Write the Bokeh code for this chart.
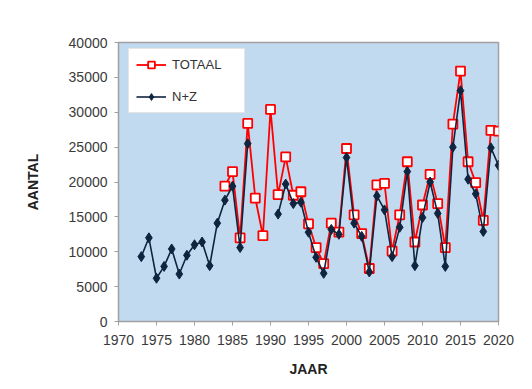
import numpy as np
from bokeh.plotting import figure
from bokeh.models import Range1d, FixedTicker, Legend, LegendItem
from bokeh.embed import file_html
from bokeh.resources import INLINE

nan = float("nan")

years_nz = list(range(1973, 2021))
nz_values = [9300, 12000, 6200, 7900, 10400, 6800, 9500, 11000, 11400, 8000,
             14100, 17400, 19400, 10600, 25500, nan, nan, nan, 15400, 19700,
             16900, 17100, 12800, 9200, 6900, 13200, 12500, 23500, 14100, 12200,
             7100, 18000, 16000, 9300, 13500, 21500, 8000, 14900, 20000, 15500,
             7900, 25000, 33100, 20400, 18300, 12900, 24900, 22400]

years_tot = list(range(1984, 2021))
tot_values = [19400, 21500, 12000, 28400, 17700, 12300, 30400, 18200, 23600, 18100,
              18600, 14000, 10600, 8300, 14100, 12800, 24800, 15300, 12600, 7600,
              19600, 19800, 10100, 15300, 22900, 11400, 16700, 21100, 16900, 10600,
              28300, 35900, 22900, 19900, 14500, 27400, 27300]

x_ticks = list(range(1970, 2021, 5))
y_ticks = list(range(0, 40001, 5000))

series_names = ["TOTAAL", "N+Z"]
x_label = "JAAR"
y_label = "AANTAL"

FONT = "Liberation Sans"
RED = "#FF0000"
NAVY = "#0F243E"

W, H = 524, 381
BL, BR, BT, BB = 118, 26, 42, 60
FRAME_H = H - BT - BB

p = figure(width=W, height=H, output_backend="svg", toolbar_location=None,
           x_range=Range1d(1970, 2020), y_range=Range1d(0, 40000),
           min_border_left=BL, min_border_top=BT, min_border_right=BR,
           min_border_bottom=BB)

p.background_fill_color = "#C2DAF0"
p.border_fill_color = "white"
p.outline_line_color = "#A0A0A0"
p.outline_line_width = 1.5
p.xgrid.visible = False
p.ygrid.visible = False

for ax in (p.xaxis[0], p.yaxis[0]):
    ax.axis_line_color = "#A0A0A0"
    ax.major_tick_line_color = "#A0A0A0"
    ax.minor_tick_line_color = None
    ax.major_tick_in = 0
    ax.major_tick_out = 4
    ax.major_label_text_font = FONT
    ax.major_label_text_font_size = "14px"
    ax.major_label_text_color = "#3A3A3A"
    ax.axis_label_text_font = FONT
    ax.axis_label_text_font_size = "14px"
    ax.axis_label_text_font_style = "bold"
    ax.axis_label_text_color = "#222222"

p.xaxis.ticker = FixedTicker(ticks=x_ticks)
p.yaxis.ticker = FixedTicker(ticks=y_ticks)
p.xaxis.axis_label = x_label
p.yaxis.axis_label = y_label
p.xaxis.major_label_standoff = 9
p.yaxis.major_label_standoff = 7
p.xaxis.axis_label_standoff = 13
p.yaxis.axis_label_standoff = 25

t_line = p.line(years_tot, tot_values, line_color=RED, line_width=1.8)
t_mark = p.scatter(years_tot, tot_values, marker="square", size=9,
                   line_color=RED, line_width=1.8, fill_color="white")
n_line = p.line(years_nz, nz_values, line_color=NAVY, line_width=1.6)
n_mark = p.scatter(years_nz, nz_values, marker="diamond", size=10,
                   line_color=NAVY, fill_color=NAVY)

LEG_H = 7 * 2 + 17 + 15 + 17
legend = Legend(items=[LegendItem(label=series_names[0], renderers=[t_line, t_mark]),
                       LegendItem(label=series_names[1], renderers=[n_line, n_mark])],
                location=(10, FRAME_H - 8 - LEG_H), padding=7, spacing=15,
                glyph_width=30, glyph_height=17, label_height=17,
                label_standoff=6, label_width=65,
                label_text_font=FONT, label_text_font_size="13px",
                label_text_color="#333333",
                border_line_color="#CCCCCC", border_line_width=1,
                background_fill_color="white", background_fill_alpha=1)
p.add_layout(legend)

open("out.html", "w").write(file_html(p, INLINE))
